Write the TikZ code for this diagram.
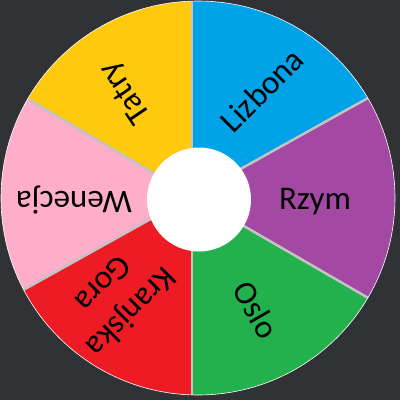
\documentclass[tikz,border=0pt]{standalone}
\usepackage{fontspec}
\setmainfont{Carlito}
\usetikzlibrary{calc}
\definecolor{bgdark}{RGB}{48,50,54}
\definecolor{sepgray}{RGB}{195,195,195}
\definecolor{lizblue}{RGB}{0,162,232}
\definecolor{rzympurple}{RGB}{163,73,164}
\definecolor{oslogreen}{RGB}{34,177,76}
\definecolor{krred}{RGB}{237,28,36}
\definecolor{wenpink}{RGB}{255,174,201}
\definecolor{tatyellow}{RGB}{255,201,14}
\begin{document}
\begin{tikzpicture}[x=1pt,y=-1pt,
  city/.style={font=\fontsize{33}{40}\selectfont, inner sep=0pt, align=center},
  sep/.style={sepgray, line width=2.5pt}]
\fill[bgdark] (0,0) rectangle (400,400);
\useasboundingbox (0,0) rectangle (400,400);
% hub and rim points
\coordinate (hub) at (192,196);
\coordinate (mid) at (198,198);
\coordinate (top) at (192,1);
\coordinate (ur) at (368,98);
\coordinate (lr) at (370,299);
\coordinate (bot) at (192,395);
\coordinate (ll) at (25,289);
\coordinate (ul) at (28,99);
\begin{scope}
\clip (mid) circle[radius=197pt];
\fill[lizblue] (hub) -- ($(hub)!2!(top)$) -- ($(hub)!2!(ur)$) -- cycle;
\fill[rzympurple] (hub) -- ($(hub)!2!(ur)$) -- ($(hub)!2!(lr)$) -- cycle;
\fill[oslogreen] (hub) -- ($(hub)!2!(lr)$) -- ($(hub)!2!(bot)$) -- cycle;
\fill[krred] (hub) -- ($(hub)!2!(bot)$) -- ($(hub)!2!(ll)$) -- cycle;
\fill[wenpink] (hub) -- ($(hub)!2!(ll)$) -- ($(hub)!2!(ul)$) -- cycle;
\fill[tatyellow] (hub) -- ($(hub)!2!(ul)$) -- ($(hub)!2!(top)$) -- cycle;
\draw[sep] (hub) -- ($(hub)!2!(top)$);
\draw[sep] (hub) -- ($(hub)!2!(ur)$);
\draw[sep] (hub) -- ($(hub)!2!(lr)$);
\draw[sep] (hub) -- ($(hub)!2!(bot)$);
\draw[sep] (hub) -- ($(hub)!2!(ll)$);
\draw[sep] (hub) -- ($(hub)!2!(ul)$);
\end{scope}
\draw[white, line width=0.6pt] (mid) circle[radius=197pt];
\fill[white] (199,199.5) circle[radius=52pt];
% labels
\node[city, rotate=45] (lizbona) at (262,90) {Lizbona};
\node[city] (rzym) at (315,202) {Rzym};
\node[city, rotate=-60] (oslo) at (256,310) {Oslo};
\node[city, rotate=225] (kranjska) at (118,299) {Kranjska\\Gora};
\node[city, rotate=180] (wenecja) at (74,200) {Wenecja};
\node[city, rotate=124] (tatry) at (126,92) {Tatry};
\end{tikzpicture}
\end{document}
